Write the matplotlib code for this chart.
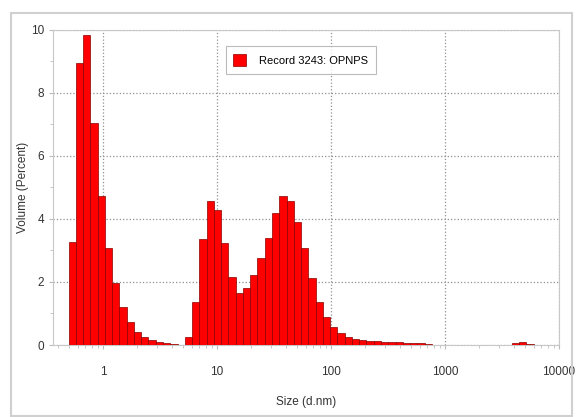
import matplotlib
matplotlib.use('Agg')
import matplotlib.pyplot as plt
from matplotlib.patches import Rectangle
import numpy as np

plt.rcParams['font.family'] = ['Liberation Sans', 'DejaVu Sans']

# Zetasizer size classes (d.nm) and volume percent per class
sizes = [0.4, 0.4632, 0.5365, 0.6213, 0.7195, 0.8332, 0.9649, 1.117, 1.294, 1.499,
         1.736, 2.01, 2.328, 2.696, 3.122, 3.615, 4.187, 4.849, 5.615, 6.503,
         7.531, 8.721, 10.1, 11.7, 13.54, 15.69, 18.17, 21.04, 24.36, 28.21,
         32.67, 37.84, 43.82, 50.75, 58.77, 68.06, 78.82, 91.28, 105.7, 122.4,
         141.8, 164.2, 190.1, 220.2, 255.0, 295.3, 342.0, 396.1, 458.7, 531.2,
         615.1, 712.4, 825.0, 955.4, 1106, 1281, 1484, 1718, 1990, 2305,
         2669, 3091, 3580, 4145, 4801, 5560, 6439, 7456, 8635, 10000]
volume = [0, 0, 3.25, 8.94, 9.84, 7.04, 4.73, 3.09, 1.96, 1.22,
          0.74, 0.42, 0.25, 0.16, 0.10, 0.07, 0.03, 0, 0.26, 1.37,
          3.35, 4.55, 4.29, 3.23, 2.17, 1.64, 1.80, 2.22, 2.75, 3.39,
          4.18, 4.71, 4.58, 3.91, 3.07, 2.12, 1.37, 0.88, 0.56, 0.37,
          0.26, 0.19, 0.15, 0.13, 0.12, 0.11, 0.09, 0.08, 0.07, 0.06,
          0.05, 0.04, 0, 0, 0, 0, 0, 0, 0, 0,
          0, 0, 0, 0.06, 0.08, 0.04, 0, 0, 0, 0]
label = 'Record 3243: OPNPS'

sizes = np.array(sizes)
step = np.log10(sizes[1] / sizes[0]) / 2
left = sizes * 10 ** (-step)
right = sizes * 10 ** step

fig = plt.figure(figsize=(5.76, 4.17), dpi=100)
# light outer frame like the screenshot
fig.patches.append(Rectangle((11 / 576, 1 / 417), 561 / 576, 403 / 417,
                             transform=fig.transFigure, fill=False,
                             edgecolor='#d0d0d0', linewidth=1.5))
ax = fig.add_axes([53 / 576, 1 - 345 / 417, 506 / 576, 315.5 / 417])

ax.bar(left, volume, width=right - left, align='edge', color='#ff0000',
       edgecolor='#8a0000', linewidth=0.5, label=label, zorder=3)

ax.set_xscale('log')
ax.set_xlim(0.364, 10000)
ax.set_ylim(0, 10)
ax.set_xticks([1, 10, 100, 1000, 10000])
ax.set_xticklabels(['1', '10', '100', '1000', '10000'])
ax.set_yticks([0, 2, 4, 6, 8, 10])
ax.set_yticks([1, 3, 5, 7, 9], minor=True)

ax.grid(True, which='major', linestyle=':', color='#909090', linewidth=0.9, zorder=0)
for s in ax.spines.values():
    s.set_color('#c8c8c8')
    s.set_linewidth(0.8)
ax.tick_params(which='both', colors='#bbbbbb', labelcolor='#333333', labelsize=8.5)
ax.tick_params(which='major', length=3)
ax.tick_params(which='minor', length=2)
ax.tick_params(axis='x', pad=12)

ax.set_xlabel('Size (d.nm)', fontsize=8.5, color='#333333', labelpad=13)
ax.set_ylabel('Volume (Percent)', fontsize=8.5, color='#333333', labelpad=1)

leg = ax.legend(loc='upper left', bbox_to_anchor=(0.33, 0.965), fontsize=8,
                frameon=True, fancybox=False, shadow=False, borderpad=0.7,
                handlelength=1.1, handleheight=1.3, handletextpad=1.2)
leg.get_frame().set_edgecolor('#aaaaaa')
leg.get_frame().set_linewidth(0.8)

fig.savefig('out.png', dpi=100)
